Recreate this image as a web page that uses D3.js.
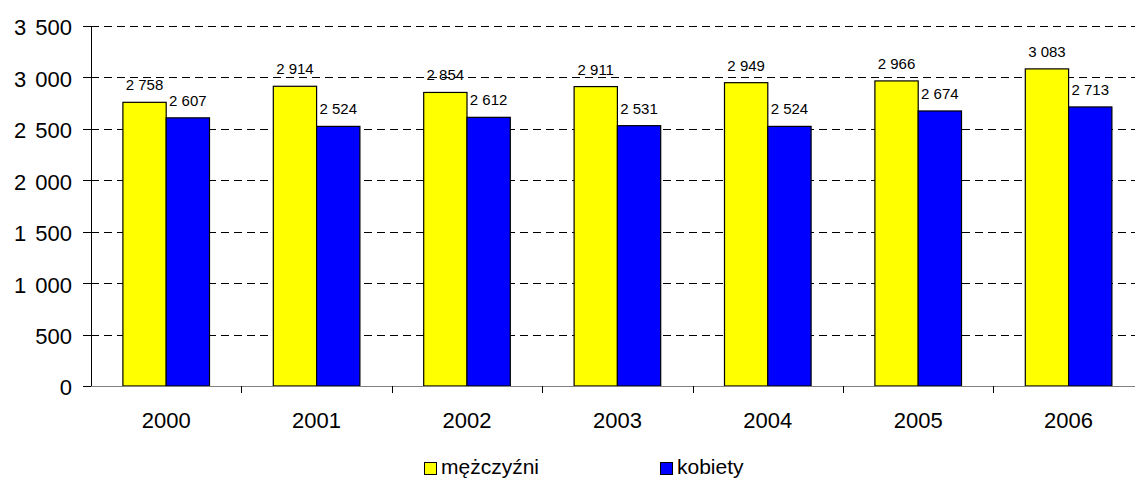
<!DOCTYPE html>
<html lang="pl">
<head>
    <meta charset="UTF-8">
    <script src="https://d3js.org/d3.v7.min.js"></script>
    <title>Chart</title>
    <style>
        body { margin: 0; background: #fff; }
        text { font-family: "Liberation Sans", Arial, sans-serif; fill: #000; }
    </style>
</head>
<body>
<script>
    // Data
    const years = ["2000", "2001", "2002", "2003", "2004", "2005", "2006"];
    const series = ["mężczyźni", "kobiety"];
    const men = [2758, 2914, 2854, 2911, 2949, 2966, 3083];
    const women = [2607, 2524, 2612, 2531, 2524, 2674, 2713];
    const yTicks = [0, 500, 1000, 1500, 2000, 2500, 3000, 3500];
    const colors = ["#ffff00", "#0000ff"];

    const W = 1135, H = 483;
    const plotLeft = 91, plotTop = 26, plotBottom = 386;
    const band = 150.4;

    const svg = d3.select("body").append("svg")
        .attr("width", W)
        .attr("height", H);

    const rows = years.map((y, i) => ({year: y, values: [men[i], women[i]]}));

    // Scales
    const x = d3.scaleBand()
        .domain(years)
        .range([plotLeft, plotLeft + band * years.length])
        .padding(0);
    const barW = 43.3;
    const x1 = d3.scaleBand()
        .domain(d3.range(series.length))
        .range([(x.bandwidth() - 2 * barW) / 2, (x.bandwidth() + 2 * barW) / 2]);
    const y = d3.scaleLinear()
        .domain([0, 3500])
        .range([plotBottom, plotTop]);

    const fmt = v => d3.format(",")(v).replace(",", " ");

    // Gridlines
    svg.append("g")
        .selectAll("line")
        .data(yTicks.filter(d => d > 0))
        .enter().append("line")
        .attr("x1", plotLeft).attr("x2", W)
        .attr("y1", d => Math.round(y(d)) + 0.5)
        .attr("y2", d => Math.round(y(d)) + 0.5)
        .attr("stroke", "#000")
        .attr("stroke-dasharray", "8,5");

    // Bars
    const groups = svg.append("g")
        .selectAll("g")
        .data(rows)
        .enter().append("g")
        .attr("transform", d => "translate(" + x(d.year) + ",0)");

    groups.selectAll("rect")
        .data(d => d.values)
        .enter().append("rect")
        .attr("x", (d, i) => x1(i))
        .attr("y", d => y(d))
        .attr("width", x1.bandwidth())
        .attr("height", d => plotBottom - y(d))
        .attr("fill", (d, i) => colors[i])
        .attr("stroke", "#000")
        .attr("stroke-width", 1.2);

    groups.selectAll("text")
        .data(d => d.values)
        .enter().append("text")
        .attr("x", (d, i) => x1(i) + x1.bandwidth() / 2)
        .attr("y", d => y(d) - 12)
        .attr("text-anchor", "middle")
        .style("font-size", "15px")
        .text(fmt);

    // Y axis
    const yAxis = svg.append("g");
    yAxis.append("line")
        .attr("x1", plotLeft + 0.5).attr("x2", plotLeft + 0.5)
        .attr("y1", plotTop).attr("y2", plotBottom)
        .attr("stroke", "#000");
    yAxis.selectAll(".tick")
        .data(yTicks)
        .enter().append("line")
        .attr("x1", plotLeft - 8).attr("x2", plotLeft + 8)
        .attr("y1", d => Math.round(y(d)) + 0.5)
        .attr("y2", d => Math.round(y(d)) + 0.5)
        .attr("stroke", "#000");
    yAxis.selectAll("text")
        .data(yTicks)
        .enter().append("text")
        .attr("x", 72)
        .attr("y", d => y(d))
        .attr("dy", "0.43em")
        .attr("text-anchor", "end")
        .style("font-size", "22px")
        .style("word-spacing", "3px")
        .text(fmt);

    // X axis
    const xAxis = svg.append("g");
    xAxis.append("line")
        .attr("x1", plotLeft).attr("x2", W)
        .attr("y1", plotBottom + 0.5).attr("y2", plotBottom + 0.5)
        .attr("stroke", "#808080");
    xAxis.selectAll(".tick")
        .data(years.slice(1))
        .enter().append("line")
        .attr("x1", d => Math.round(x(d)) + 0.5)
        .attr("x2", d => Math.round(x(d)) + 0.5)
        .attr("y1", plotBottom).attr("y2", plotBottom + 7)
        .attr("stroke", "#000");
    xAxis.selectAll("text")
        .data(years)
        .enter().append("text")
        .attr("x", d => x(d) + x.bandwidth() / 2)
        .attr("y", 428)
        .attr("text-anchor", "middle")
        .style("font-size", "22px")
        .text(d => d);

    // Legend
    const legendX = [424, 660];
    const legend = svg.append("g")
        .selectAll("g")
        .data(series)
        .enter().append("g")
        .attr("transform", (d, i) => "translate(" + legendX[i] + ",462)");
    legend.append("rect")
        .attr("x", 0.5).attr("y", 0.5)
        .attr("width", 12).attr("height", 12)
        .attr("fill", (d, i) => colors[i])
        .attr("stroke", "#000");
    legend.append("text")
        .attr("x", 17)
        .attr("y", 12)
        .style("font-size", "21px")
        .text(d => d);
</script>
</body>
</html>
